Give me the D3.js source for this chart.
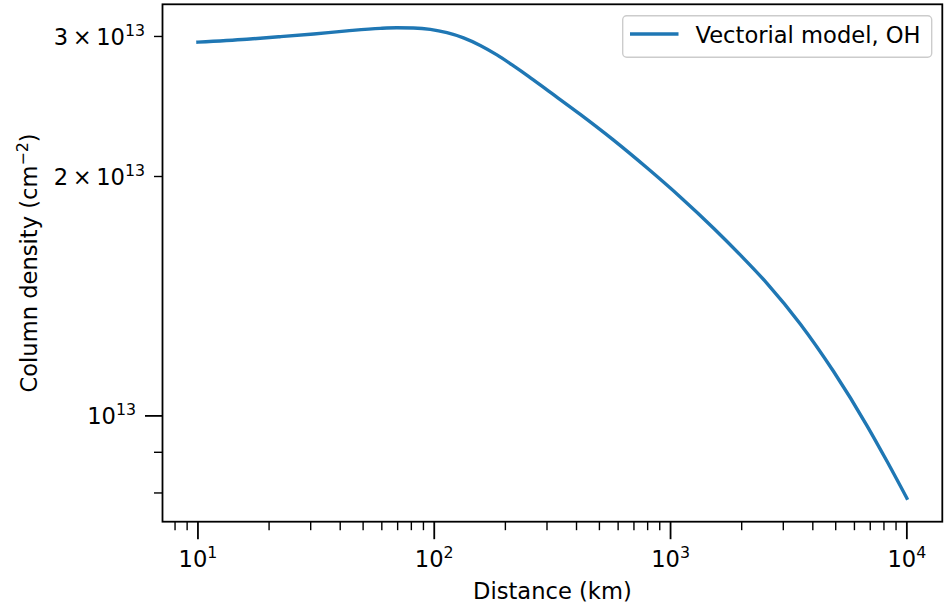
<!DOCTYPE html>
<html>
<head>
<meta charset="utf-8">
<script src="https://cdn.jsdelivr.net/npm/d3@7"></script>
<style>
  html, body { margin: 0; padding: 0; background: #fff; }
  svg { display: block; }
  text { font-family: "DejaVu Sans", sans-serif; fill: #000; }
</style>
</head>
<body>
<svg id="chart" width="945" height="604"></svg>
<script>
// ---- data ----
const distanceKm = [10, 16.1, 22.3, 30.9, 42.7, 59.1, 69.5, 81.7, 96.2, 113.2, 133, 156.6, 184.2, 216.6, 250.6, 300, 415, 574, 794.3, 1099, 1521, 1972, 2559, 3540, 4898, 6776, 8241, 10000];
const columnDensity = [2.951e13, 2.976e13, 2.998e13, 3.022e13, 3.049e13, 3.071e13, 3.076e13, 3.074e13, 3.062e13, 3.033e13, 2.988e13, 2.923e13, 2.844e13, 2.755e13, 2.673e13, 2.570e13, 2.394e13, 2.222e13, 2.051e13, 1.885e13, 1.722e13, 1.594e13, 1.468e13, 1.305e13, 1.137e13, 9.725e12, 8.768e12, 7.880e12];
const seriesName = "Vectorial model, OH";
const xMajorTicks = [1e1, 1e2, 1e3, 1e4];
const xMajorExp = ["1", "2", "3", "4"];
const yMajorTicks = [1e13];
const yMajorLabels = [{mant: null, exp: "13"}];
const yLabeledMinorTicks = [2e13, 3e13];
const yLabeledMinorLabels = [{mant: "2", exp: "13"}, {mant: "3", exp: "13"}];
const xLabel = "Distance (km)";
const yLabelMain = "Column density (cm";
const yLabelSup = "\u22122";

// ---- layout ----
const L = 162.5, R = 942.3, T = 4.3, B = 521.7;
const FS = 22.6, SUP = 15.8;
const svg = d3.select("#chart");

function logPad(arr) {
  const lo = Math.log10(d3.min(arr)), hi = Math.log10(d3.max(arr));
  const m = (hi - lo) * 0.05;
  return [Math.pow(10, lo - m), Math.pow(10, hi + m)];
}
const x = d3.scaleLog().domain(logPad(distanceKm)).range([L, R]);
const y = d3.scaleLog().domain(logPad(columnDensity)).range([B, T]);

function minorTicks(scale) {
  const [a, b] = scale.domain();
  const out = [];
  for (let k = Math.floor(Math.log10(a)); k <= Math.ceil(Math.log10(b)); k++) {
    for (let m = 2; m <= 9; m++) {
      const v = m * Math.pow(10, k);
      if (v >= a && v <= b) out.push(v);
    }
  }
  return out;
}

// ---- line ----
const pts = distanceKm.map((d, i) => [d, columnDensity[i]]);
svg.append("path")
  .datum(pts)
  .attr("fill", "none")
  .attr("stroke", "#1f77b4")
  .attr("stroke-width", 3.4)
  .attr("stroke-linecap", "square")
  .attr("stroke-linejoin", "round")
  .attr("d", d3.line().x(d => x(d[0])).y(d => y(d[1])).curve(d3.curveMonotoneX));

// ---- x axis ticks ----
const gx = svg.append("g");
gx.selectAll("line.minor").data(minorTicks(x)).join("line")
  .attr("x1", d => x(d)).attr("x2", d => x(d))
  .attr("y1", B).attr("y2", B + 8.5)
  .attr("stroke", "#000").attr("stroke-width", 1.4);
gx.selectAll("line.major").data(xMajorTicks).join("line")
  .attr("x1", d => x(d)).attr("x2", d => x(d))
  .attr("y1", B).attr("y2", B + 17.5)
  .attr("stroke", "#000").attr("stroke-width", 1.8);
xMajorTicks.forEach((v, i) => {
  const t = gx.append("text")
    .attr("x", x(v)).attr("y", 567)
    .attr("text-anchor", "middle")
    .attr("font-size", FS);
  t.append("tspan").text("10");
  t.append("tspan").attr("font-size", SUP).attr("dy", -9).text(xMajorExp[i]);
});

// ---- y axis ticks ----
const gy = svg.append("g");
gy.selectAll("line.minor").data(minorTicks(y)).join("line")
  .attr("x1", L - 8.5).attr("x2", L)
  .attr("y1", d => y(d)).attr("y2", d => y(d))
  .attr("stroke", "#000").attr("stroke-width", 1.4);
gy.selectAll("line.major").data(yMajorTicks).join("line")
  .attr("x1", L - 17.5).attr("x2", L)
  .attr("y1", d => y(d)).attr("y2", d => y(d))
  .attr("stroke", "#000").attr("stroke-width", 1.8);

function yLabel(v, lab, rightX) {
  const t = gy.append("text")
    .attr("x", rightX).attr("y", y(v) + 8.5)
    .attr("text-anchor", "end")
    .attr("font-size", FS);
  if (lab.mant) t.append("tspan").text(lab.mant + "\u2009\u00d7\u200910");
  else t.append("tspan").text("10");
  t.append("tspan").attr("font-size", SUP).attr("dy", -9).text(lab.exp);
}
yMajorTicks.forEach((v, i) => yLabel(v, yMajorLabels[i], 136));
yLabeledMinorTicks.forEach((v, i) => yLabel(v, yLabeledMinorLabels[i], 145));

// ---- spines ----
svg.append("rect")
  .attr("x", L).attr("y", T).attr("width", R - L).attr("height", B - T)
  .attr("fill", "none").attr("stroke", "#000").attr("stroke-width", 1.8);

// ---- axis labels ----
svg.append("text")
  .attr("x", (L + R) / 2).attr("y", 599)
  .attr("text-anchor", "middle").attr("font-size", FS)
  .text(xLabel);
const yl = svg.append("text")
  .attr("transform", `translate(37,${(T + B) / 2}) rotate(-90)`)
  .attr("text-anchor", "middle").attr("font-size", FS);
yl.append("tspan").text(yLabelMain);
yl.append("tspan").attr("font-size", SUP).attr("dy", -9).text(yLabelSup);
yl.append("tspan").attr("dy", 9).text(")");

// ---- legend ----
const lg = svg.append("g");
lg.append("rect")
  .attr("x", 622.7).attr("y", 15.7).attr("width", 309).attr("height", 41.6)
  .attr("rx", 4).attr("ry", 4)
  .attr("fill", "#fff").attr("fill-opacity", 0.8)
  .attr("stroke", "#cccccc").attr("stroke-width", 1.4);
lg.append("line")
  .attr("x1", 630).attr("x2", 678.5).attr("y1", 34).attr("y2", 34)
  .attr("stroke", "#1f77b4").attr("stroke-width", 3.4);
lg.append("text")
  .attr("x", 695.5).attr("y", 43.3)
  .attr("font-size", FS)
  .text(seriesName);
</script>
</body>
</html>
